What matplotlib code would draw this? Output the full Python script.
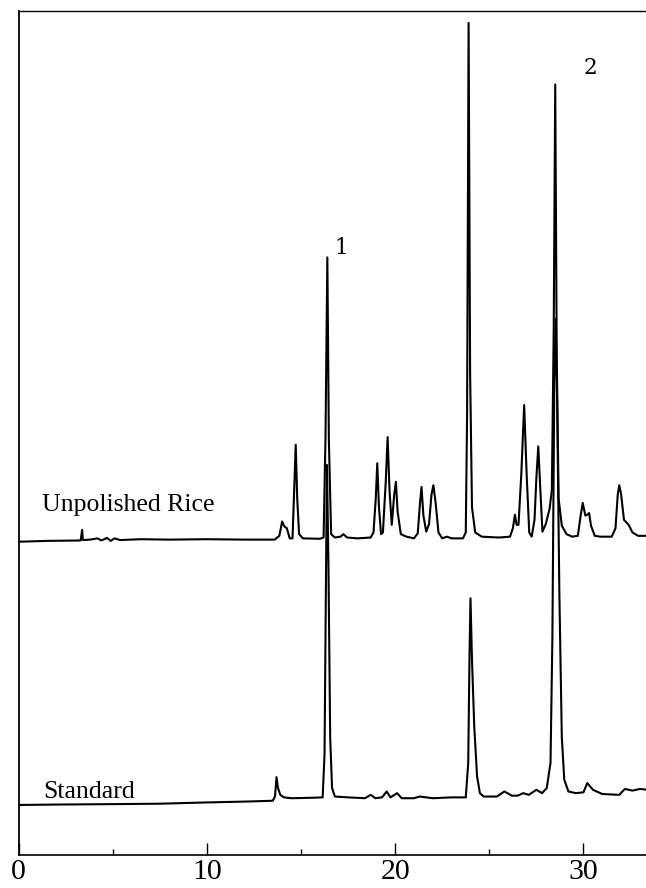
import matplotlib
matplotlib.use("Agg")
import matplotlib.pyplot as plt
from matplotlib.ticker import MultipleLocator

# retention time (min) and detector signal (arb. units above own baseline)
rice_time = [0.0, 1.5, 3.3, 3.38, 3.42, 3.8, 4.2, 4.4, 4.7, 4.9, 5.1, 5.4, 6.5, 8.0, 10.0, 12.0, 13.6,
             13.85, 14.0, 14.12, 14.25, 14.4, 14.55,
             14.63, 14.72, 14.8, 14.9, 15.1, 16.0, 16.2,
             16.3, 16.4, 16.48, 16.6, 16.8, 17.1, 17.25, 17.45, 18.0, 18.7, 18.85,
             18.97, 19.05, 19.14, 19.25, 19.35, 19.5, 19.6, 19.7, 19.82, 19.95, 20.04, 20.13, 20.3,
             20.6, 21.0, 21.2, 21.32, 21.4, 21.5, 21.65, 21.8, 21.93, 22.03, 22.15, 22.3, 22.5,
             22.75, 23.0, 23.6, 23.75,
             23.82, 23.9, 23.98, 24.08, 24.25, 24.6, 25.5, 26.1, 26.25, 26.36, 26.45, 26.55, 26.7,
             26.85, 26.98, 27.12, 27.25, 27.4, 27.5, 27.6, 27.7, 27.82, 28.0, 28.2, 28.32,
             28.42, 28.5, 28.58, 28.68, 28.85, 29.1, 29.4, 29.7, 29.85, 29.96, 30.1, 30.2, 30.3,
             30.4, 30.6, 30.9, 31.5, 31.7, 31.82, 31.9, 32.0, 32.15, 32.4, 32.6, 32.9, 33.4]
rice_signal = [-0.1, 0.0, 0.05, 1.3, 0.1, 0.15, 0.3, 0.05, 0.35, 0.0, 0.3, 0.1, 0.2, 0.15, 0.2, 0.15, 0.15,
               0.6, 2.3, 1.7, 1.5, 0.3, 0.3,
               5.5, 11.4, 5.0, 0.8, 0.3, 0.25, 0.4,
               12.0, 33.6, 12.0, 0.8, 0.4, 0.5, 0.8, 0.4, 0.3, 0.4, 1.0,
               5.0, 9.2, 4.0, 0.8, 1.0, 7.0, 12.3, 6.0, 1.9, 5.5, 7.0, 3.5, 0.8,
               0.5, 0.3, 0.9, 4.5, 6.4, 3.0, 1.1, 2.0, 5.5, 6.6, 4.5, 1.0, 0.3,
               0.5, 0.3, 0.3, 1.0,
               15.0, 61.4, 20.0, 4.0, 1.0, 0.5, 0.4, 0.5, 1.5, 3.1, 1.9, 1.9, 8.0,
               16.1, 8.0, 1.0, 0.5, 2.5, 7.5, 11.2, 6.5, 1.1, 2.0, 3.8, 6.0,
               25.0, 54.1, 22.0, 5.0, 1.8, 0.8, 0.5, 0.6, 3.0, 4.5, 3.0, 3.1, 3.3,
               1.8, 0.6, 0.5, 0.5, 1.5, 5.5, 6.6, 5.5, 2.5, 1.9, 1.0, 0.6, 0.6]

std_time = [0.0, 2.0, 5.0, 7.5, 10.0, 12.0, 13.5, 13.62, 13.7, 13.78, 13.9, 14.1, 14.5, 15.5,
            16.15, 16.25, 16.32, 16.38, 16.46, 16.55, 16.65, 16.8, 17.5, 18.4, 18.7, 18.95,
            19.3, 19.55, 19.75, 20.1, 20.35, 21.0, 21.3, 22.0, 23.0, 23.75,
            23.88, 23.95, 24.0, 24.08, 24.2, 24.35, 24.5, 24.7, 25.4, 25.8, 26.2, 26.5, 26.8,
            27.1, 27.5, 27.8, 28.05, 28.25, 28.35, 28.45, 28.52, 28.6, 28.72, 28.85, 28.98,
            29.2, 29.6, 30.0, 30.2, 30.5, 31.0, 31.9, 32.2, 32.6, 33.0, 33.4]
std_signal = [0.0, 0.05, 0.1, 0.15, 0.3, 0.4, 0.5, 1.0, 3.3, 2.0, 1.2, 0.9, 0.8, 0.85,
              0.9, 6.0, 25.0, 40.3, 28.0, 8.0, 2.0, 1.0, 0.9, 0.8, 1.2, 0.8,
              0.9, 1.6, 0.9, 1.4, 0.8, 0.8, 1.0, 0.8, 0.9, 0.9,
              5.0, 18.0, 24.5, 17.2, 9.3, 3.4, 1.4, 1.0, 1.0, 1.6, 1.1, 1.1, 1.4,
              1.2, 1.8, 1.4, 2.0, 5.0, 20.0, 50.0, 57.6, 48.0, 25.0, 8.0, 3.0,
              1.6, 1.4, 1.5, 2.6, 1.8, 1.3, 1.2, 1.9, 1.7, 1.9, 1.8]

trace_names = ["Unpolished Rice", "Standard"]
peak_labels = ["1", "2"]

# stacking offsets (layout)
rice_offset = 37.23
std_offset = 5.93

plt.rcParams["font.family"] = ["Liberation Serif", "DejaVu Serif"]

fig = plt.figure(figsize=(6.46, 8.88), dpi=100)
ax = fig.add_axes([0.02864, 0.03716, 0.97136, 0.95011])

ax.plot(rice_time, [s + rice_offset for s in rice_signal], color="black", lw=1.5)
ax.plot(std_time, [s + std_offset for s in std_signal], color="black", lw=1.5)

ax.set_xlim(0, 33.32)
ax.set_ylim(0, 100)

ax.text(1.23, 40.8, trace_names[0], fontsize=18.5, ha="left", va="baseline")
ax.text(1.29, 6.72, trace_names[1], fontsize=18.5, ha="left", va="baseline")
ax.text(17.16, 71.96, peak_labels[0], fontsize=15.5, ha="center", va="center", family="DejaVu Serif")
ax.text(30.35, 93.3, peak_labels[1], fontsize=15.5, ha="center", va="center", family="DejaVu Serif")

ax.spines["right"].set_visible(False)
ax.spines["left"].set_linewidth(1.3)
ax.spines["bottom"].set_linewidth(1.2)
ax.spines["top"].set_linewidth(1.0)
ax.xaxis.set_major_locator(MultipleLocator(10))
ax.xaxis.set_minor_locator(MultipleLocator(5))
ax.tick_params(axis="x", which="major", direction="in", length=9, width=1.0, labelsize=21.5, pad=3)
ax.tick_params(axis="x", which="minor", direction="in", length=4.5, width=1.0)
ax.set_yticks([])

fig.savefig("out.png", dpi=100)
